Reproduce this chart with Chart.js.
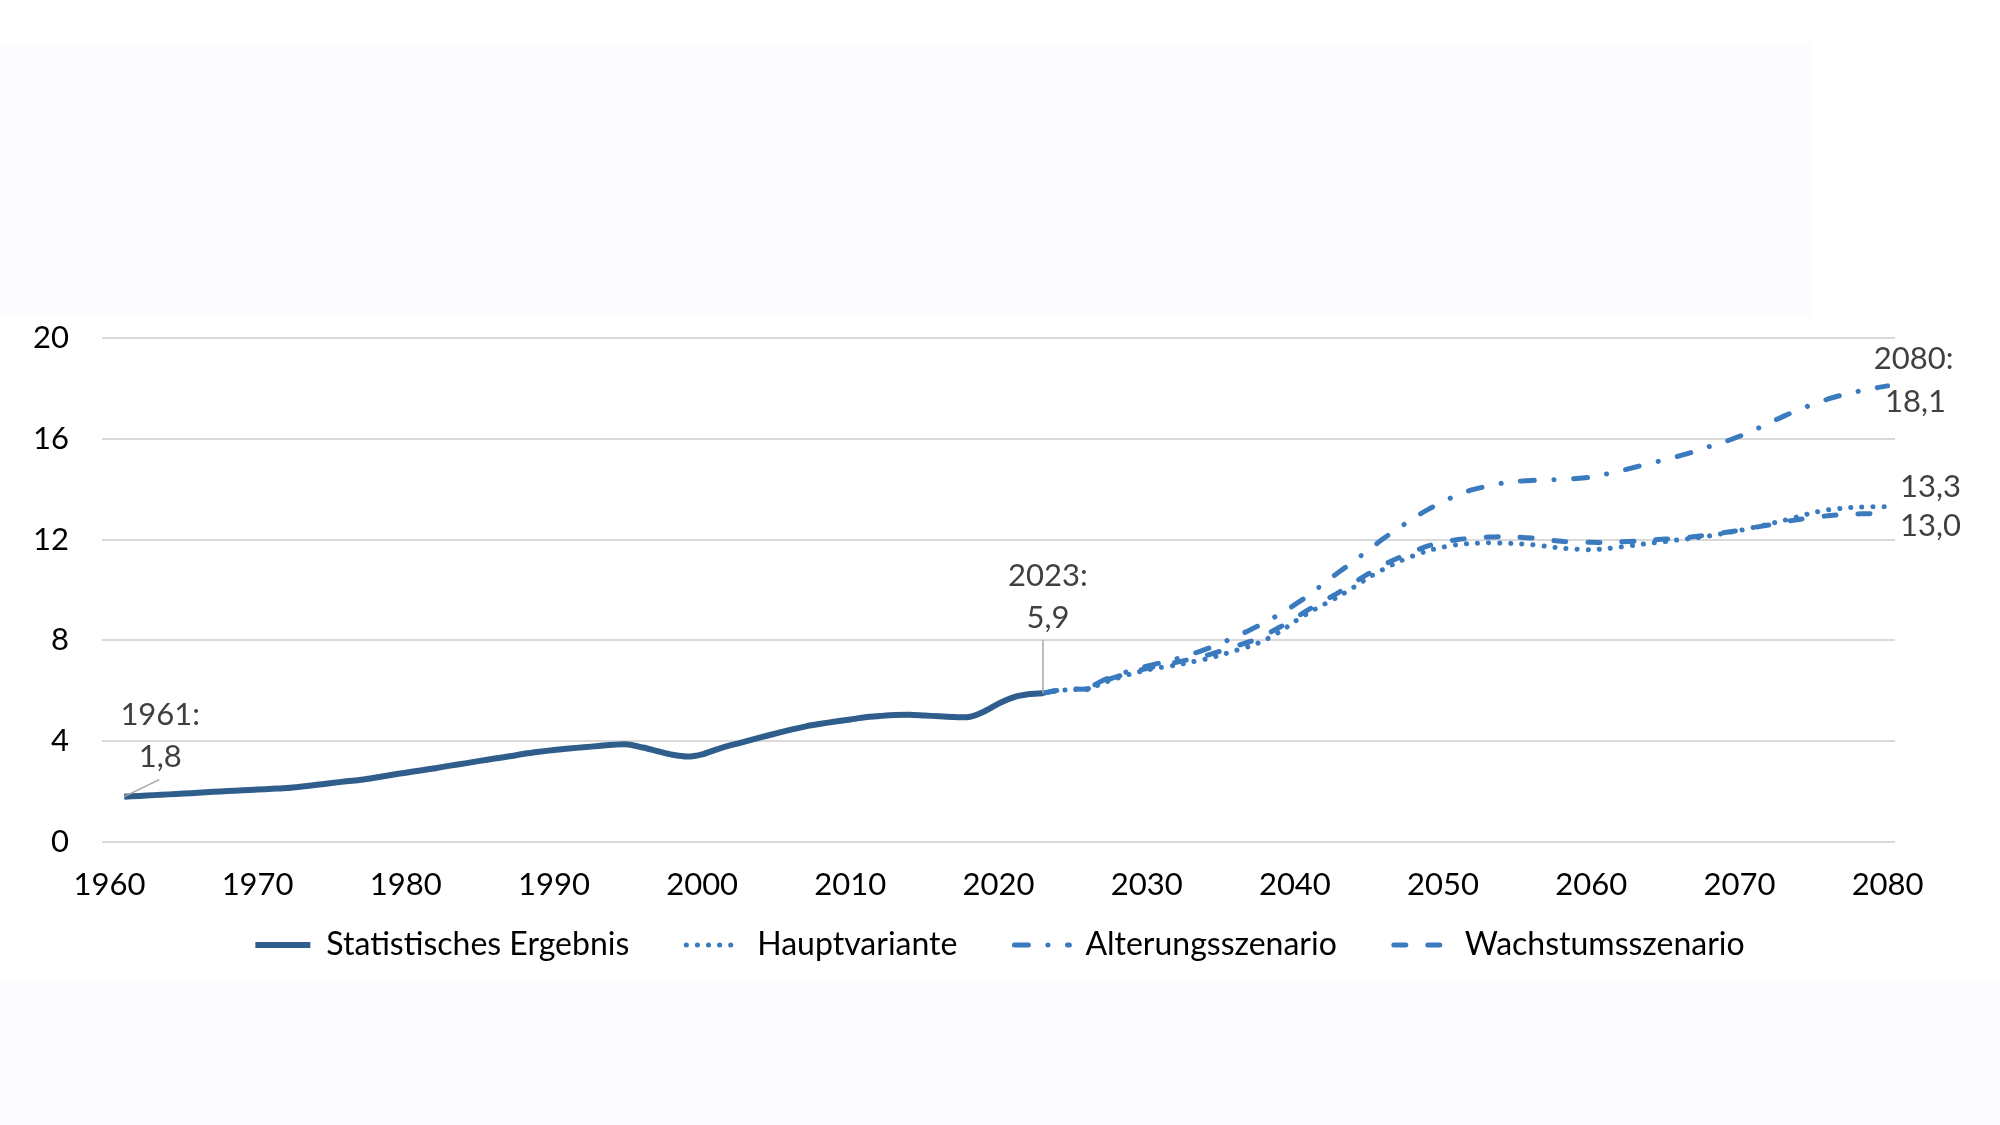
<!DOCTYPE html>
<html>
<head>
<meta charset="utf-8">
<script src="https://cdn.jsdelivr.net/npm/chart.js@4.4.1/dist/chart.umd.min.js"></script>
<style>
  body { margin: 0; background: #ffffff; }
  #wrap { position: relative; width: 2000px; height: 1125px; overflow: hidden; }
  .pale { position: absolute; background: #fcfcfe; }
  #box1 { left: 0; top: 42px; width: 1811px; height: 275px; }
  #box2 { left: 0; top: 980px; width: 2000px; height: 145px; }
  #cv { position: absolute; left: 0; top: 0; }
</style>
</head>
<body>
<div id="wrap">
  <div class="pale" id="box1"></div>
  <div class="pale" id="box2"></div>
  <canvas id="cv" width="2000" height="1125"></canvas>
</div>
<script>
// Personen in Mio. – Statistik 1961-2023, Vorausberechnung 2023-2080
const histStart = 1961;
const histWerte = [
  1.80, 1.83, 1.86, 1.89, 1.92, 1.95, 1.99, 2.02, 2.05, 2.08,
  2.11, 2.14, 2.20, 2.27, 2.34, 2.41, 2.47, 2.56, 2.66, 2.75,
  2.84, 2.93, 3.03, 3.12, 3.22, 3.31, 3.40, 3.50, 3.58, 3.65,
  3.71, 3.76, 3.81, 3.86, 3.87, 3.75, 3.60, 3.46, 3.39, 3.48,
  3.68, 3.85, 4.00, 4.16, 4.31, 4.46, 4.59, 4.69, 4.78, 4.86,
  4.95, 5.00, 5.04, 5.05, 5.02, 4.99, 4.96, 4.96, 5.17, 5.49,
  5.74, 5.86, 5.90
];

const progStart = 2023;
const hauptvariante = [
  5.90, 6.00, 6.05, 6.05, 6.30, 6.50, 6.68, 6.82, 6.93, 7.02,
  7.14, 7.26, 7.42, 7.60, 7.78, 8.02, 8.35, 8.75, 9.12, 9.44,
  9.76, 10.12, 10.50, 10.83, 11.12, 11.36, 11.56, 11.70, 11.80, 11.85,
  11.87, 11.86, 11.84, 11.80, 11.73, 11.66, 11.62, 11.60, 11.64, 11.71,
  11.78, 11.86, 11.92, 12.00, 12.06, 12.15, 12.25, 12.36, 12.49, 12.62,
  12.76, 12.92, 13.07, 13.18, 13.25, 13.29, 13.30, 13.30
];
const alterung = [
  5.90, 6.02, 6.07, 6.10, 6.40, 6.62, 6.82, 6.98, 7.12, 7.27,
  7.45, 7.65, 7.88, 8.15, 8.42, 8.72, 9.05, 9.42, 9.82, 10.28,
  10.72, 11.15, 11.60, 12.05, 12.45, 12.85, 13.20, 13.50, 13.78, 13.98,
  14.12, 14.24, 14.31, 14.35, 14.37, 14.39, 14.42, 14.48, 14.60, 14.73,
  14.88, 15.03, 15.17, 15.33, 15.50, 15.70, 15.88, 16.10, 16.35, 16.62,
  16.90, 17.15, 17.38, 17.58, 17.75, 17.88, 18.00, 18.10
];
const wachstum = [
  5.90, 6.02, 6.07, 6.08, 6.35, 6.56, 6.75, 6.88, 7.02, 7.13,
  7.26, 7.40, 7.58, 7.77, 7.96, 8.22, 8.53, 8.88, 9.25, 9.58,
  9.92, 10.30, 10.66, 11.00, 11.28, 11.53, 11.75, 11.90, 12.00, 12.06,
  12.10, 12.12, 12.10, 12.06, 12.00, 11.93, 11.90, 11.89, 11.89, 11.91,
  11.94, 11.98, 12.02, 12.06, 12.12, 12.20, 12.28, 12.37, 12.48, 12.58,
  12.70, 12.80, 12.88, 12.95, 13.00, 13.02, 13.03, 13.00
];

const tickJahre = [1960, 1970, 1980, 1990, 2000, 2010, 2020, 2030, 2040, 2050, 2060, 2070, 2080];
const serienNamen = ['Statistisches Ergebnis', 'Hauptvariante', 'Alterungsszenario', 'Wachstumsszenario'];

function punkte(start, werte) {
  return werte.map((v, i) => ({ x: start + i, y: v }));
}

const dunkel = '#2f5e8c';
const hell = '#3a7abf';
const schrift = 'Lato, "Open Sans", sans-serif';

// Beschriftungen an den Datenpunkten
const beschriftung = {
  id: 'beschriftung',
  afterDatasetsDraw(chart) {
    const ctx = chart.ctx;
    const xs = chart.scales.x, ys = chart.scales.y;
    ctx.save();
    ctx.font = '31px ' + schrift;
    ctx.fillStyle = '#404040';
    ctx.textAlign = 'center';
    ctx.textBaseline = 'middle';
    ctx.strokeStyle = '#a6a6a6';
    ctx.lineWidth = 1.5;

    // 1961
    let px = xs.getPixelForValue(histStart), py = ys.getPixelForValue(histWerte[0]);
    ctx.beginPath(); ctx.moveTo(px, py); ctx.lineTo(px + 35, py - 17); ctx.stroke();
    ctx.fillText('1961:', px + 36, py - 82);
    ctx.fillText('1,8', px + 36, py - 40);

    // 2023
    const letzte = histWerte.length - 1;
    px = xs.getPixelForValue(histStart + letzte); py = ys.getPixelForValue(histWerte[letzte]);
    ctx.beginPath(); ctx.moveTo(px, py); ctx.lineTo(px, py - 53); ctx.stroke();
    ctx.fillText('2023:', px + 5, py - 117);
    ctx.fillText('5,9', px + 5, py - 75);

    // 2080
    const n = alterung.length - 1;
    px = xs.getPixelForValue(progStart + n);
    py = ys.getPixelForValue(alterung[n]);
    ctx.fillText('2080:', px + 26, py - 27);
    ctx.fillText('18,1', px + 28, py + 16);
    py = ys.getPixelForValue(hauptvariante[n]);
    ctx.fillText('13,3', px + 43, py - 20);
    py = ys.getPixelForValue(wachstum[n]);
    ctx.fillText('13,0', px + 43, py + 12);
    ctx.restore();
  }
};

function linie(name, daten, farbe, breite, strich) {
  return {
    label: name,
    data: daten,
    borderColor: farbe,
    backgroundColor: farbe,
    borderWidth: breite,
    borderDash: strich,
    borderCapStyle: strich.length ? 'round' : 'butt',
    pointRadius: 0,
    pointStyle: 'line',
    tension: 0.3,
    fill: false
  };
}

new Chart(document.getElementById('cv'), {
  type: 'line',
  data: {
    datasets: [
      linie(serienNamen[0], punkte(histStart, histWerte), dunkel, 6, []),
      linie(serienNamen[1], punkte(progStart, hauptvariante), hell, 5, [0.1, 11]),
      linie(serienNamen[2], punkte(progStart, alterung), hell, 5, [14, 19.5, 0.1, 19.5]),
      linie(serienNamen[3], punkte(progStart, wachstum), hell, 5, [12, 22])
    ]
  },
  options: {
    responsive: false,
    animation: false,
    devicePixelRatio: 1,
    layout: { padding: { left: 0, right: 0, top: 338, bottom: 154 } },
    scales: {
      x: {
        type: 'linear',
        min: 1959.5,
        max: 2080.5,
        afterBuildTicks: (s) => { s.ticks = tickJahre.map(v => ({ value: v })); },
        afterFit: (s) => { s.height = 62; },
        grid: { display: false },
        border: { display: false },
        ticks: {
          color: '#000000',
          font: { family: schrift, size: 31 },
          maxRotation: 0,
          autoSkip: false,
          padding: 16,
          callback: (v) => String(v)
        }
      },
      y: {
        min: 0,
        max: 20,
        afterFit: (s) => { s.width = 102; },
        grid: { color: '#d9d9d9', lineWidth: 2, drawTicks: false },
        border: { display: false },
        ticks: {
          stepSize: 4,
          color: '#000000',
          font: { family: schrift, size: 31 },
          padding: 33
        }
      },
      // leere Achse rechts, hält Platz für die Endbeschriftungen frei
      rechts: {
        position: 'right',
        min: 0,
        max: 20,
        afterFit: (s) => { s.width = 105; },
        grid: { display: false },
        border: { display: false },
        ticks: { display: false }
      }
    },
    plugins: {
      legend: {
        position: 'bottom',
        labels: {
          usePointStyle: true,
          pointStyleWidth: 55,
          color: '#000000',
          font: { family: schrift, size: 32 },
          padding: 25,
          boxHeight: 10,
          generateLabels: (chart) => {
            const items = Chart.defaults.plugins.legend.labels.generateLabels(chart);
            items.forEach((it, i) => {
              const ds = chart.data.datasets[i];
              it.lineDash = ds.borderDash;
              it.lineCap = ds.borderCapStyle;
              it.lineWidth = ds.borderWidth;
              it.strokeStyle = ds.borderColor;
              if (i < items.length - 1) it.text = it.text + '\u2002\u2002';
            });
            return items;
          }
        }
      },
      tooltip: { enabled: false }
    }
  },
  plugins: [beschriftung]
});
</script>
</body>
</html>
